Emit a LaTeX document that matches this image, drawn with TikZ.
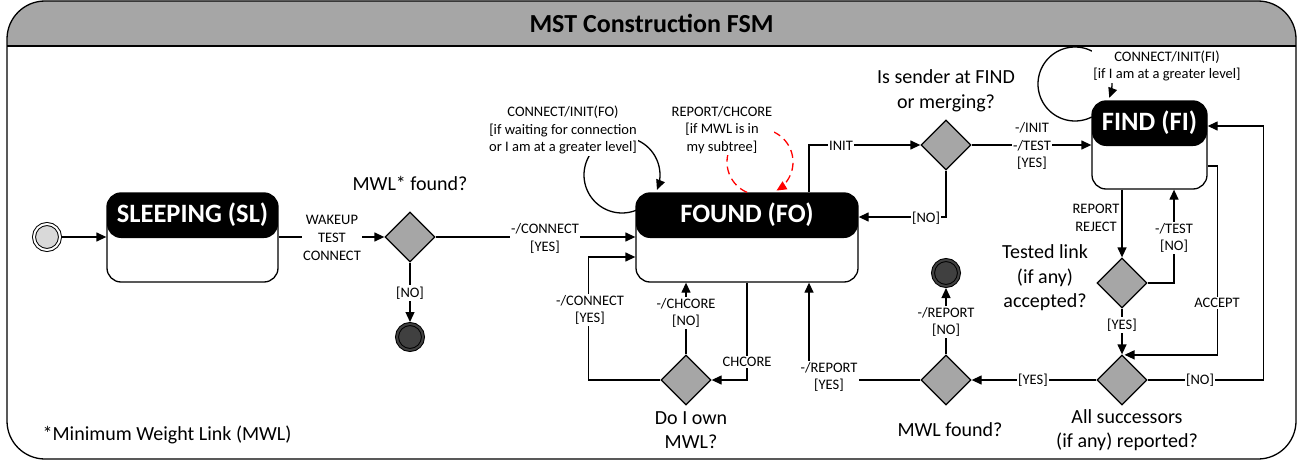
\documentclass[tikz,border=0pt]{standalone}
\usepackage{fontspec}
\setmainfont{Carlito}
\usetikzlibrary{arrows.meta,shapes.geometric,calc}
\definecolor{tgray}{RGB}{166,166,166}
\definecolor{dgray}{RGB}{64,64,64}
\definecolor{lgray}{RGB}{217,217,217}
\definecolor{lred}{RGB}{255,0,0}
\begin{document}
\begin{tikzpicture}[x=1pt,y=-1pt,line width=1.3pt,
  arr/.style={-{Triangle[length=10pt,width=9pt]}},
  lbl/.style={font=\fontsize{14.5}{17.7}\selectfont, align=center, fill=white, inner sep=1.5pt},
  ques/.style={font=\fontsize{20}{24.5}\selectfont, align=center, inner sep=0pt},
  statebox/.style={draw, rounded corners=14pt, inner sep=0pt,
    path picture={\fill[black] (path picture bounding box.north west) rectangle ([yshift=-45pt]path picture bounding box.north east);}},
  stitle/.style={text=white, font=\bfseries\fontsize{26.5}{30}\selectfont, inner sep=0pt},
  decision/.style={diamond, draw, fill=tgray, minimum width=50pt, minimum height=50pt, inner sep=0pt, aspect=1},
  startst/.style={circle, draw, double=white, double distance=2pt, line width=1pt, fill=lgray, minimum size=26pt, inner sep=0pt, outer sep=2pt},
  endst/.style={circle, draw, double=dgray, double distance=2pt, line width=1pt, fill=dgray, minimum size=26pt, inner sep=0pt, outer sep=2pt},
]
\useasboundingbox (0,0) rectangle (1304,460);
% frame
\begin{scope}
  \clip[rounded corners=38pt] (7,1) rectangle (1296,459);
  \fill[tgray] (7,1) rectangle (1296,46);
\end{scope}
\draw[rounded corners=38pt] (7,1) rectangle (1296,459);
\draw (7,46) -- (1296,46);
\node[font=\bfseries\fontsize{26}{30}\selectfont, inner sep=0pt] (title) at (651.5,23.5) {MST Construction FSM};

% states
\node[startst] (init) at (47,237) {};
\node[statebox, minimum width=171pt, minimum height=89pt] (SL) at (192.5,237.5) {};
\node[stitle] (SLt) at ([yshift=-22.5pt]SL.north) {SLEEPING (SL)};
\node[statebox, minimum width=222pt, minimum height=89pt] (FO) at (747,237.5) {};
\node[stitle] (FOt) at ([yshift=-22.5pt]FO.north) {FOUND (FO)};
\node[statebox, minimum width=115pt, minimum height=88pt] (FI) at (1149.5,145) {};
\node[stitle] (FIt) at ([yshift=-22.5pt]FI.north) {FIND (FI)};

% decisions
\node[decision] (D1) at (410,237) {};
\node[decision] (D2) at (946,145) {};
\node[decision] (D3) at (1122,283) {};
\node[decision] (D4) at (1122,380) {};
\node[decision] (D5) at (946,380) {};
\node[decision] (D6) at (686,380) {};
\node[endst] (E1) at (410,337) {};
\node[endst] (E2) at (946,273) {};

% connectors
\draw[arr] (init) -- (init -| SL.west);
\draw[arr] (SL.east |- D1) -- (D1.west);
\draw[arr] (D1.east) -- (D1.east -| FO.west);
\draw[arr] (D1.south) -- (E1.north);
\draw[arr] (D6.west) -| ([xshift=-47pt,yshift=-19.5pt]FO.west) -- ([yshift=-19.5pt]FO.west);
\draw[arr] (D6.north) -- (D6.north |- FO.south);
\draw[arr] (FO.south) |- (D6.east);
\draw[arr] (D5.west) -| ([xshift=62pt]FO.south);
\draw[arr] ([xshift=62pt]FO.north) |- (D2.west);
\draw[arr] (D2.south) |- ([yshift=20.5pt]FO.east);
\draw[arr] (D2.east) -- (D2.east -| FI.west);
\draw[arr] (D3.north |- FI.south) -- (D3.north);
\draw[arr] (D3.east) -| ([xshift=24.5pt]FI.south);
\draw[arr] (D3.south) -- (D4.north);
\draw[arr] ([yshift=-21pt]FI.east) -- ++(10,0) |- ([xshift=2.5pt,yshift=-0.5pt]D4.north);
\draw[arr] (D4.east) -| ([xshift=56pt,yshift=19pt]FI.east) -- ([yshift=19pt]FI.east);
\draw[arr] (D4.west) -- (D5.east);
\draw[arr] (D5.north) -- (E2.south);

% self loops
\draw[arr] plot[domain=68:383, samples=80] ({622+38*cos(\x)},{175+38*sin(\x)});
\draw[arr] plot[domain=63:382, samples=80] ({1075+37*cos(\x)},{84+37*sin(\x)});
\draw[lred, dash pattern=on 8pt off 5pt, -{Triangle[length=10pt,width=9pt]}] plot[domain=113:420, samples=80] ({760+33*cos(\x)},{162+33*sin(\x)});

% labels
\node[lbl] (l1) at (332,238) {WAKEUP\\TEST\\CONNECT};
\node[lbl] (l2) at (545,238.5) {-/CONNECT\\{}[YES]};
\node[lbl] (l3) at (410,293) {[NO]};
\node[lbl] (l4) at (590,310) {-/CONNECT\\{}[YES]};
\node[lbl] (l5) at (686,313) {-/CHCORE\\{}[NO]};
\node[lbl] (l6) at (747,362) {CHCORE};
\node[lbl] (l7) at (829,377) {-/REPORT\\{}[YES]};
\node[lbl] (l8) at (841,146) {INIT};
\node[lbl] (l9) at (926,218) {[NO]};
\node[lbl] (l10) at (1032,146) {-/INIT\\-/TEST\\{}[YES]};
\node[lbl, fill=none] (l11) at (1096,218) {REPORT\\REJECT};
\node[lbl] (l12) at (1174,238) {-/TEST\\{}[NO]};
\node[lbl] (l13) at (1122,325) {[YES]};
\node[lbl] (l14) at (1217,303) {ACCEPT};
\node[lbl] (l15) at (1200,380) {[NO]};
\node[lbl] (l16) at (1033,380) {[YES]};
\node[lbl] (l17) at (946,322) {-/REPORT\\{}[NO]};
\node[lbl] (l18) at (563,130) {CONNECT/INIT(FO)\\{}[if waiting for connection\\or I am at a greater level]};
\node[lbl] (l19) at (722,130) {REPORT/CHCORE\\{}[if MWL is in\\my subtree]};
\node[lbl] (l20) at (1167,66) {CONNECT/INIT(FI)\\{}[if I am at a greater level]};

% questions
\node[ques] (q1) at (410,183) {MWL* found?};
\node[ques] (q2) at (946,91) {Is sender at FIND\\or merging?};
\node[ques] (q3) at (1045,278) {Tested link\\(if any)\\accepted?};
\node[ques] (q4) at (1127,430) {All successors\\(if any) reported?};
\node[ques] (q5) at (950,430) {MWL found?};
\node[ques] (q6) at (691,430) {Do I own\\MWL?};
\node[ques, anchor=west] (foot) at (42,435) {*Minimum Weight Link (MWL)};
\end{tikzpicture}
\end{document}
